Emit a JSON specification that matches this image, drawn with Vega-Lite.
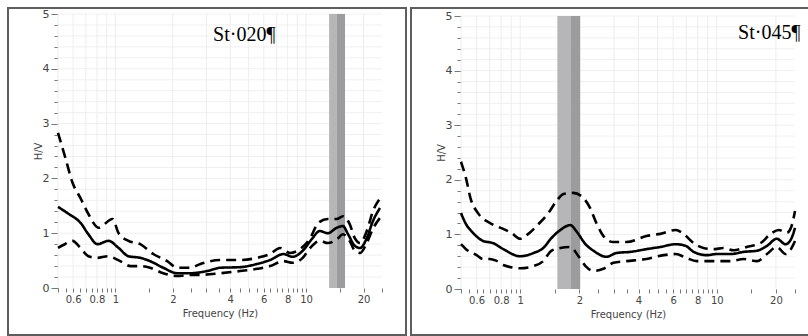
{
  "$schema": "https://vega.github.io/schema/vega-lite/v6.json",
  "background": "white",
  "padding": {"left": 7, "top": 7, "right": 0, "bottom": 0},
  "config": {
    "view": {"stroke": "#5e5e5e", "strokeWidth": 2},
    "concat": {"spacing": 3},
    "axis": {
      "domain": false,
      "grid": false,
      "tickColor": "#777777",
      "labelColor": "#444444",
      "labelFont": "DejaVu Sans",
      "labelFontSize": 10,
      "titleFont": "DejaVu Sans",
      "titleFontSize": 10,
      "titleFontWeight": "normal",
      "titleColor": "#444444",
      "labelOverlap": false,
      "labelFlush": false,
      "labelBound": false
    }
  },
  "datasets": {
    "vgrid": [{"f":0.5},{"f":0.6},{"f":0.7},{"f":0.8},{"f":0.9},{"f":1},{"f":2},{"f":3},{"f":4},{"f":5},{"f":6},{"f":7},{"f":8},{"f":9},{"f":10},{"f":20}],
    "hgrid": [{"v":0.2},{"v":0.4},{"v":0.6},{"v":0.8},{"v":1},{"v":1.2},{"v":1.4},{"v":1.6},{"v":1.8},{"v":2},{"v":2.2},{"v":2.4},{"v":2.6},{"v":2.8},{"v":3},{"v":3.2},{"v":3.4},{"v":3.6},{"v":3.8},{"v":4},{"v":4.2},{"v":4.4},{"v":4.6},{"v":4.8},{"v":5}],
    "bands": [
      {"p":"St020","f0":13.2,"f1":14.5,"shade":"light"},
      {"p":"St020","f0":14.5,"f1":16.0,"shade":"dark"},
      {"p":"St045","f0":1.545,"f1":1.80,"shade":"light"},
      {"p":"St045","f0":1.80,"f1":2.02,"shade":"dark"}
    ],
    "labels": [
      {"p":"St020","f":4.74,"v":4.51,"t":"St·020¶"},
      {"p":"St045","f":18.5,"v":4.58,"t":"St·045¶"}
    ],
    "curves": [
      {"p":"St020","s":"mean","f":0.5,"v":1.48},
      {"p":"St020","s":"mean","f":0.57,"v":1.35},
      {"p":"St020","s":"mean","f":0.656,"v":1.19},
      {"p":"St020","s":"mean","f":0.722,"v":0.98},
      {"p":"St020","s":"mean","f":0.805,"v":0.80},
      {"p":"St020","s":"mean","f":0.92,"v":0.86},
      {"p":"St020","s":"mean","f":1.04,"v":0.73},
      {"p":"St020","s":"mean","f":1.17,"v":0.58},
      {"p":"St020","s":"mean","f":1.35,"v":0.55},
      {"p":"St020","s":"mean","f":1.52,"v":0.49},
      {"p":"St020","s":"mean","f":1.78,"v":0.37},
      {"p":"St020","s":"mean","f":2.11,"v":0.27},
      {"p":"St020","s":"mean","f":2.47,"v":0.27},
      {"p":"St020","s":"mean","f":3.03,"v":0.31},
      {"p":"St020","s":"mean","f":3.55,"v":0.37},
      {"p":"St020","s":"mean","f":4.51,"v":0.38},
      {"p":"St020","s":"mean","f":5.53,"v":0.44},
      {"p":"St020","s":"mean","f":6.47,"v":0.51},
      {"p":"St020","s":"mean","f":7.6,"v":0.62},
      {"p":"St020","s":"mean","f":8.5,"v":0.57},
      {"p":"St020","s":"mean","f":9.6,"v":0.68},
      {"p":"St020","s":"mean","f":10.7,"v":0.89},
      {"p":"St020","s":"mean","f":11.8,"v":1.04},
      {"p":"St020","s":"mean","f":13,"v":1.0},
      {"p":"St020","s":"mean","f":14.5,"v":1.10},
      {"p":"St020","s":"mean","f":15.6,"v":1.13},
      {"p":"St020","s":"mean","f":16.6,"v":0.98},
      {"p":"St020","s":"mean","f":18,"v":0.77},
      {"p":"St020","s":"mean","f":19.2,"v":0.73},
      {"p":"St020","s":"mean","f":20.8,"v":0.91},
      {"p":"St020","s":"mean","f":22.4,"v":1.22},
      {"p":"St020","s":"mean","f":24.4,"v":1.46},
      {"p":"St020","s":"upper","f":0.5,"v":2.83},
      {"p":"St020","s":"upper","f":0.547,"v":2.37},
      {"p":"St020","s":"upper","f":0.596,"v":1.92},
      {"p":"St020","s":"upper","f":0.656,"v":1.64},
      {"p":"St020","s":"upper","f":0.722,"v":1.35},
      {"p":"St020","s":"upper","f":0.815,"v":1.10},
      {"p":"St020","s":"upper","f":0.965,"v":1.26},
      {"p":"St020","s":"upper","f":1.04,"v":1.0},
      {"p":"St020","s":"upper","f":1.17,"v":0.86},
      {"p":"St020","s":"upper","f":1.35,"v":0.80},
      {"p":"St020","s":"upper","f":1.58,"v":0.62},
      {"p":"St020","s":"upper","f":1.87,"v":0.49},
      {"p":"St020","s":"upper","f":2.11,"v":0.37},
      {"p":"St020","s":"upper","f":2.47,"v":0.37},
      {"p":"St020","s":"upper","f":2.79,"v":0.44},
      {"p":"St020","s":"upper","f":3.55,"v":0.51},
      {"p":"St020","s":"upper","f":4.51,"v":0.51},
      {"p":"St020","s":"upper","f":5.53,"v":0.55},
      {"p":"St020","s":"upper","f":6.47,"v":0.62},
      {"p":"St020","s":"upper","f":7.3,"v":0.73},
      {"p":"St020","s":"upper","f":8.23,"v":0.64},
      {"p":"St020","s":"upper","f":9.3,"v":0.71},
      {"p":"St020","s":"upper","f":10.5,"v":0.91},
      {"p":"St020","s":"upper","f":11.6,"v":1.19},
      {"p":"St020","s":"upper","f":13,"v":1.26},
      {"p":"St020","s":"upper","f":14.5,"v":1.26},
      {"p":"St020","s":"upper","f":15.6,"v":1.31},
      {"p":"St020","s":"upper","f":16.9,"v":1.17},
      {"p":"St020","s":"upper","f":18,"v":0.91},
      {"p":"St020","s":"upper","f":19.2,"v":0.82},
      {"p":"St020","s":"upper","f":20.8,"v":1.04},
      {"p":"St020","s":"upper","f":22.4,"v":1.40},
      {"p":"St020","s":"upper","f":25,"v":1.68},
      {"p":"St020","s":"lower","f":0.5,"v":0.73},
      {"p":"St020","s":"lower","f":0.53,"v":0.78},
      {"p":"St020","s":"lower","f":0.596,"v":0.86},
      {"p":"St020","s":"lower","f":0.656,"v":0.73},
      {"p":"St020","s":"lower","f":0.722,"v":0.58},
      {"p":"St020","s":"lower","f":0.805,"v":0.55},
      {"p":"St020","s":"lower","f":0.91,"v":0.58},
      {"p":"St020","s":"lower","f":1.06,"v":0.49},
      {"p":"St020","s":"lower","f":1.2,"v":0.40},
      {"p":"St020","s":"lower","f":1.35,"v":0.40},
      {"p":"St020","s":"lower","f":1.52,"v":0.37},
      {"p":"St020","s":"lower","f":1.78,"v":0.27},
      {"p":"St020","s":"lower","f":2.11,"v":0.22},
      {"p":"St020","s":"lower","f":2.47,"v":0.24},
      {"p":"St020","s":"lower","f":2.79,"v":0.24},
      {"p":"St020","s":"lower","f":3.55,"v":0.27},
      {"p":"St020","s":"lower","f":4.51,"v":0.31},
      {"p":"St020","s":"lower","f":5.53,"v":0.35},
      {"p":"St020","s":"lower","f":6.47,"v":0.40},
      {"p":"St020","s":"lower","f":7.6,"v":0.49},
      {"p":"St020","s":"lower","f":8.5,"v":0.46},
      {"p":"St020","s":"lower","f":9.6,"v":0.55},
      {"p":"St020","s":"lower","f":10.5,"v":0.73},
      {"p":"St020","s":"lower","f":11.8,"v":0.86},
      {"p":"St020","s":"lower","f":13,"v":0.82},
      {"p":"St020","s":"lower","f":14.5,"v":0.89},
      {"p":"St020","s":"lower","f":15.6,"v":0.98},
      {"p":"St020","s":"lower","f":16.9,"v":0.86},
      {"p":"St020","s":"lower","f":18,"v":0.68},
      {"p":"St020","s":"lower","f":19.2,"v":0.64},
      {"p":"St020","s":"lower","f":20.8,"v":0.82},
      {"p":"St020","s":"lower","f":22.4,"v":1.08},
      {"p":"St020","s":"lower","f":24.4,"v":1.28},
      {"p":"St045","s":"mean","f":0.5,"v":1.39},
      {"p":"St045","s":"mean","f":0.53,"v":1.19},
      {"p":"St045","s":"mean","f":0.575,"v":1.03},
      {"p":"St045","s":"mean","f":0.647,"v":0.88},
      {"p":"St045","s":"mean","f":0.728,"v":0.84},
      {"p":"St045","s":"mean","f":0.82,"v":0.73},
      {"p":"St045","s":"mean","f":1.0,"v":0.60},
      {"p":"St045","s":"mean","f":1.17,"v":0.66},
      {"p":"St045","s":"mean","f":1.31,"v":0.75},
      {"p":"St045","s":"mean","f":1.44,"v":0.93},
      {"p":"St045","s":"mean","f":1.6,"v":1.08},
      {"p":"St045","s":"mean","f":1.8,"v":1.17},
      {"p":"St045","s":"mean","f":1.93,"v":1.06},
      {"p":"St045","s":"mean","f":2.15,"v":0.82},
      {"p":"St045","s":"mean","f":2.36,"v":0.70},
      {"p":"St045","s":"mean","f":2.75,"v":0.59},
      {"p":"St045","s":"mean","f":3.09,"v":0.66},
      {"p":"St045","s":"mean","f":3.64,"v":0.68},
      {"p":"St045","s":"mean","f":4.39,"v":0.73},
      {"p":"St045","s":"mean","f":5.17,"v":0.77},
      {"p":"St045","s":"mean","f":6.18,"v":0.82},
      {"p":"St045","s":"mean","f":6.94,"v":0.79},
      {"p":"St045","s":"mean","f":7.63,"v":0.68},
      {"p":"St045","s":"mean","f":8.89,"v":0.62},
      {"p":"St045","s":"mean","f":10,"v":0.64},
      {"p":"St045","s":"mean","f":11.8,"v":0.64},
      {"p":"St045","s":"mean","f":13.7,"v":0.68},
      {"p":"St045","s":"mean","f":16,"v":0.70},
      {"p":"St045","s":"mean","f":18,"v":0.79},
      {"p":"St045","s":"mean","f":20.2,"v":0.92},
      {"p":"St045","s":"mean","f":22.4,"v":0.82},
      {"p":"St045","s":"mean","f":24,"v":0.93},
      {"p":"St045","s":"mean","f":25,"v":1.12},
      {"p":"St045","s":"upper","f":0.5,"v":2.33},
      {"p":"St045","s":"upper","f":0.53,"v":2.03},
      {"p":"St045","s":"upper","f":0.56,"v":1.65},
      {"p":"St045","s":"upper","f":0.61,"v":1.39},
      {"p":"St045","s":"upper","f":0.70,"v":1.21},
      {"p":"St045","s":"upper","f":0.82,"v":1.10},
      {"p":"St045","s":"upper","f":0.90,"v":1.03},
      {"p":"St045","s":"upper","f":1.0,"v":0.92},
      {"p":"St045","s":"upper","f":1.1,"v":1.01},
      {"p":"St045","s":"upper","f":1.24,"v":1.19},
      {"p":"St045","s":"upper","f":1.39,"v":1.39},
      {"p":"St045","s":"upper","f":1.53,"v":1.61},
      {"p":"St045","s":"upper","f":1.66,"v":1.74},
      {"p":"St045","s":"upper","f":1.86,"v":1.76},
      {"p":"St045","s":"upper","f":2.05,"v":1.70},
      {"p":"St045","s":"upper","f":2.27,"v":1.48},
      {"p":"St045","s":"upper","f":2.44,"v":1.21},
      {"p":"St045","s":"upper","f":2.71,"v":0.93},
      {"p":"St045","s":"upper","f":2.98,"v":0.86},
      {"p":"St045","s":"upper","f":3.47,"v":0.86},
      {"p":"St045","s":"upper","f":4.39,"v":0.97},
      {"p":"St045","s":"upper","f":5.17,"v":1.01},
      {"p":"St045","s":"upper","f":6.18,"v":1.08},
      {"p":"St045","s":"upper","f":6.78,"v":1.01},
      {"p":"St045","s":"upper","f":7.63,"v":0.84},
      {"p":"St045","s":"upper","f":8.56,"v":0.75},
      {"p":"St045","s":"upper","f":9.6,"v":0.73},
      {"p":"St045","s":"upper","f":10.8,"v":0.75},
      {"p":"St045","s":"upper","f":12.2,"v":0.71},
      {"p":"St045","s":"upper","f":14.2,"v":0.77},
      {"p":"St045","s":"upper","f":16.7,"v":0.84},
      {"p":"St045","s":"upper","f":18.8,"v":1.01},
      {"p":"St045","s":"upper","f":20.7,"v":1.08},
      {"p":"St045","s":"upper","f":22.7,"v":1.03},
      {"p":"St045","s":"upper","f":24,"v":1.15},
      {"p":"St045","s":"upper","f":25,"v":1.43},
      {"p":"St045","s":"lower","f":0.5,"v":0.82},
      {"p":"St045","s":"lower","f":0.53,"v":0.73},
      {"p":"St045","s":"lower","f":0.6,"v":0.62},
      {"p":"St045","s":"lower","f":0.647,"v":0.55},
      {"p":"St045","s":"lower","f":0.70,"v":0.55},
      {"p":"St045","s":"lower","f":0.754,"v":0.52},
      {"p":"St045","s":"lower","f":0.82,"v":0.44},
      {"p":"St045","s":"lower","f":1.0,"v":0.38},
      {"p":"St045","s":"lower","f":1.17,"v":0.42},
      {"p":"St045","s":"lower","f":1.31,"v":0.51},
      {"p":"St045","s":"lower","f":1.44,"v":0.70},
      {"p":"St045","s":"lower","f":1.6,"v":0.75},
      {"p":"St045","s":"lower","f":1.8,"v":0.77},
      {"p":"St045","s":"lower","f":1.98,"v":0.60},
      {"p":"St045","s":"lower","f":2.15,"v":0.42},
      {"p":"St045","s":"lower","f":2.36,"v":0.33},
      {"p":"St045","s":"lower","f":2.65,"v":0.37},
      {"p":"St045","s":"lower","f":2.98,"v":0.48},
      {"p":"St045","s":"lower","f":3.47,"v":0.51},
      {"p":"St045","s":"lower","f":4.39,"v":0.55},
      {"p":"St045","s":"lower","f":5.37,"v":0.62},
      {"p":"St045","s":"lower","f":6.18,"v":0.64},
      {"p":"St045","s":"lower","f":7.0,"v":0.57},
      {"p":"St045","s":"lower","f":7.9,"v":0.51},
      {"p":"St045","s":"lower","f":9.6,"v":0.51},
      {"p":"St045","s":"lower","f":11.8,"v":0.51},
      {"p":"St045","s":"lower","f":13.7,"v":0.55},
      {"p":"St045","s":"lower","f":16,"v":0.51},
      {"p":"St045","s":"lower","f":18,"v":0.64},
      {"p":"St045","s":"lower","f":20.2,"v":0.77},
      {"p":"St045","s":"lower","f":22.4,"v":0.64},
      {"p":"St045","s":"lower","f":24,"v":0.75},
      {"p":"St045","s":"lower","f":25,"v":0.88}
    ]
  },
  "hconcat": [
    {
      "width": 398,
      "height": 327,
      "layer": [
        {
          "data": {"name": "hgrid"},
          "mark": {"type": "rule", "color": "#f0f0f0", "strokeWidth": 1},
          "encoding": {
            "y": {
              "field": "v", "type": "quantitative",
              "scale": {"domain": [0, 5], "range": [280, 6], "nice": false, "zero": false},
              "axis": {
                "title": "H/V",
                "values": [0,0.2,0.4,0.6,0.8,1,1.2,1.4,1.6,1.8,2,2.2,2.4,2.6,2.8,3,3.2,3.4,3.6,3.8,4,4.2,4.4,4.6,4.8,5],
                "tickCount": 200,
                "format": "~g",
                "labelExpr": "datum.value == round(datum.value) ? datum.label : ''",
                "labelOverlap": false,
                "labelFontSize": 11,
                "tickSize": 7,
                "tickDash": {"condition": {"test": "datum.value != round(datum.value)", "value": [4, 10]}, "value": [10, 0]},
                "labelPadding": 2,
                "titlePadding": -1,
                "offset": -50
              }
            },
            "x": {
              "datum": 0.5, "type": "quantitative",
              "scale": {"type": "log", "domain": [0.5, 25], "range": [50, 374], "nice": false}
            },
            "x2": {"datum": 25}
          }
        },
        {
          "data": {"name": "vgrid"},
          "mark": {"type": "rule", "color": "#eeeeee", "strokeWidth": 1},
          "encoding": {
            "x": {
              "field": "f", "type": "quantitative",
              "axis": {
                "title": "Frequency (Hz)",
                "values": [0.5,0.55,0.6,0.65,0.7,0.75,0.8,0.85,0.9,0.95,1,1.5,2,2.5,3,3.5,4,4.5,5,5.5,6,6.5,7,7.5,8,8.5,9,9.5,10,15,20,25],
                "tickCount": 200,
                "format": "~g",
                "labelExpr": "indexof([0.6,0.8,1,2,4,6,8,10,20], datum.value) >= 0 ? datum.label : ''",
                "labelOverlap": false,
                "tickSize": 4,
                "labelPadding": 2,
                "titlePadding": 4,
                "offset": -47
              }
            },
            "y": {"datum": 0, "type": "quantitative"},
            "y2": {"datum": 5}
          }
        },
        {
          "data": {"name": "bands"},
          "transform": [{"filter": "datum.p === 'St020'"}],
          "mark": {"type": "rect"},
          "encoding": {
            "x": {"field": "f0", "type": "quantitative"},
            "x2": {"field": "f1"},
            "y": {"datum": 0, "type": "quantitative"},
            "y2": {"datum": 5},
            "color": {"field": "shade", "type": "nominal", "scale": {"domain": ["light", "dark"], "range": ["#b6b6b6", "#9c9c9f"]}, "legend": null}
          }
        },
        {
          "data": {"name": "curves"},
          "transform": [{"filter": "datum.p === 'St020'"}],
          "mark": {"type": "line", "color": "black", "strokeWidth": 2.6, "interpolate": "monotone"},
          "encoding": {
            "x": {"field": "f", "type": "quantitative"},
            "y": {"field": "v", "type": "quantitative"},
            "detail": {"field": "s"},
            "strokeDash": {"field": "s", "type": "nominal", "scale": {"domain": ["mean", "upper", "lower"], "range": [[1, 0], [10, 6], [10, 6]]}, "legend": null}
          }
        },
        {
          "data": {"name": "labels"},
          "transform": [{"filter": "datum.p === 'St020'"}],
          "mark": {"type": "text", "font": "Liberation Serif", "fontSize": 20, "color": "black", "align": "center", "baseline": "alphabetic"},
          "encoding": {
            "x": {"field": "f", "type": "quantitative"},
            "y": {"field": "v", "type": "quantitative"},
            "text": {"field": "t"}
          }
        }
      ]
    },
    {
      "width": 401,
      "height": 327,
      "layer": [
        {
          "data": {"name": "hgrid"},
          "mark": {"type": "rule", "color": "#f0f0f0", "strokeWidth": 1},
          "encoding": {
            "y": {
              "field": "v", "type": "quantitative",
              "scale": {"domain": [0, 5], "range": [281, 8], "nice": false, "zero": false},
              "axis": {
                "title": "H/V",
                "values": [0,0.2,0.4,0.6,0.8,1,1.2,1.4,1.6,1.8,2,2.2,2.4,2.6,2.8,3,3.2,3.4,3.6,3.8,4,4.2,4.4,4.6,4.8,5],
                "tickCount": 200,
                "format": "~g",
                "labelExpr": "datum.value == round(datum.value) ? datum.label : ''",
                "labelOverlap": false,
                "labelFontSize": 11,
                "tickSize": 7,
                "tickDash": {"condition": {"test": "datum.value != round(datum.value)", "value": [4, 10]}, "value": [10, 0]},
                "labelPadding": 2,
                "titlePadding": -1,
                "offset": -50
              }
            },
            "x": {
              "datum": 0.5, "type": "quantitative",
              "scale": {"type": "log", "domain": [0.5, 25], "range": [50, 384], "nice": false}
            },
            "x2": {"datum": 25}
          }
        },
        {
          "data": {"name": "vgrid"},
          "mark": {"type": "rule", "color": "#eeeeee", "strokeWidth": 1},
          "encoding": {
            "x": {
              "field": "f", "type": "quantitative",
              "axis": {
                "title": "Frequency (Hz)",
                "values": [0.5,0.55,0.6,0.65,0.7,0.75,0.8,0.85,0.9,0.95,1,1.5,2,2.5,3,3.5,4,4.5,5,5.5,6,6.5,7,7.5,8,8.5,9,9.5,10,15,20,25],
                "tickCount": 200,
                "format": "~g",
                "labelExpr": "indexof([0.6,0.8,1,2,4,6,8,10,20], datum.value) >= 0 ? datum.label : ''",
                "labelOverlap": false,
                "tickSize": 4,
                "labelPadding": 2,
                "titlePadding": 4,
                "offset": -46
              }
            },
            "y": {"datum": 0, "type": "quantitative"},
            "y2": {"datum": 5}
          }
        },
        {
          "data": {"name": "bands"},
          "transform": [{"filter": "datum.p === 'St045'"}],
          "mark": {"type": "rect"},
          "encoding": {
            "x": {"field": "f0", "type": "quantitative"},
            "x2": {"field": "f1"},
            "y": {"datum": 0, "type": "quantitative"},
            "y2": {"datum": 5},
            "color": {"field": "shade", "type": "nominal", "scale": {"domain": ["light", "dark"], "range": ["#bcbcbc", "#a0a0a4"]}, "legend": null}
          }
        },
        {
          "data": {"name": "curves"},
          "transform": [{"filter": "datum.p === 'St045'"}],
          "mark": {"type": "line", "color": "black", "strokeWidth": 2.6, "interpolate": "monotone"},
          "encoding": {
            "x": {"field": "f", "type": "quantitative"},
            "y": {"field": "v", "type": "quantitative"},
            "detail": {"field": "s"},
            "strokeDash": {"field": "s", "type": "nominal", "scale": {"domain": ["mean", "upper", "lower"], "range": [[1, 0], [10, 6], [10, 6]]}, "legend": null}
          }
        },
        {
          "data": {"name": "labels"},
          "transform": [{"filter": "datum.p === 'St045'"}],
          "mark": {"type": "text", "font": "Liberation Serif", "fontSize": 20, "color": "black", "align": "center", "baseline": "alphabetic"},
          "encoding": {
            "x": {"field": "f", "type": "quantitative"},
            "y": {"field": "v", "type": "quantitative"},
            "text": {"field": "t"}
          }
        }
      ]
    }
  ]
}
